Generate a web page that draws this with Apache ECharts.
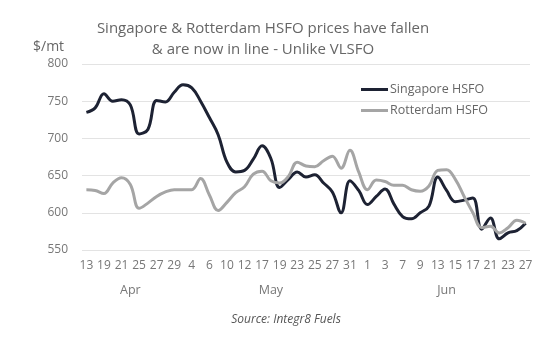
<!DOCTYPE html>
<html>
<head>
<meta charset="utf-8">
<script src="https://cdn.jsdelivr.net/npm/echarts@6/dist/echarts.min.js"></script>
<style>
  html, body { margin: 0; padding: 0; background: #fff; }
  #chart { width: 554px; height: 348px; }
</style>
</head>
<body>
<div id="chart"></div>
<script>
// Day labels shown under every second observation, with their month
const tickLabels = ['13','19','21','25','27','29','4','6','10','12','17','19','23','25','27','31','1','3','7','9','13','15','17','21','23','27'];
const tickMonths = ['Apr','Apr','Apr','Apr','Apr','Apr','May','May','May','May','May','May','May','May','May','May','Jun','Jun','Jun','Jun','Jun','Jun','Jun','Jun','Jun','Jun'];

// HSFO prices, $/mt
const singaporeHSFO = [735, 741, 760, 750, 752, 745, 706, 712, 751, 749,
  762, 772, 768, 750, 728, 705, 668, 655, 657, 672,
  690, 673, 634, 645, 655, 648, 651, 640, 628, 600,
  643, 630, 611, 622, 632, 612, 595, 592, 600, 609,
  648, 630, 615, 617, 620, 578, 593, 565, 573, 576, 586];
const rotterdamHSFO = [631, 630, 626, 640, 647, 638, 606, 613, 622, 628,
  631, 631, 631, 646, 624, 603, 614, 627, 635, 652,
  656, 643, 640, 649, 668, 663, 662, 670, 676, 660,
  684, 655, 631, 644, 642, 637, 637, 631, 629, 636,
  657, 658, 645, 622, 600, 580, 582, 573, 580, 590, 586];

// One category per observation; every even one carries a day label
const categories = singaporeHSFO.map((_, i) => 'obs' + i);
const labelFor = i => (i % 2 === 0 ? tickLabels[i / 2] : '');

// Month captions sit at the centre of the observations they cover
const monthNames = [...new Set(tickMonths)];
const monthCentres = monthNames.map(m => {
  const idx = [];
  tickMonths.forEach((tm, k) => { if (tm === m) idx.push(k * 2); });
  return (idx[0] + idx[idx.length - 1]) / 2;
});

const FONT = '"Open Sans", sans-serif';
const chart = echarts.init(document.getElementById('chart'));
chart.setOption({
  animation: false,
  backgroundColor: '#ffffff',
  textStyle: { fontFamily: FONT },
  title: [
    {
      text: 'Singapore & Rotterdam HSFO prices have fallen\n& are now in line - Unlike VLSFO',
      left: 258, top: 13, textAlign: 'center',
      textStyle: { fontFamily: FONT, fontSize: 15, fontWeight: 'normal', color: '#666666', lineHeight: 21 }
    },
    {
      text: '$/mt', left: 28, top: 35,
      textStyle: { fontFamily: FONT, fontSize: 14, fontWeight: 'normal', color: '#666666' }
    },
    {
      text: 'Source: Integr8 Fuels', left: 281, top: 309, textAlign: 'center',
      textStyle: { fontFamily: FONT, fontSize: 12, fontWeight: 'normal', fontStyle: 'italic', color: '#555555' }
    }
  ],
  legend: {
    orient: 'vertical', left: 356, top: 78, itemGap: 8,
    icon: 'rect', itemWidth: 27, itemHeight: 3,
    textStyle: { fontFamily: FONT, fontSize: 12.5, color: '#666666', padding: [0, 0, 0, -3] },
    data: ['Singapore HSFO', 'Rotterdam HSFO']
  },
  grid: { left: 82, right: 24, top: 64, bottom: 98, containLabel: false },
  xAxis: [
    {
      type: 'category', data: categories, boundaryGap: true,
      axisLine: { show: false }, axisTick: { show: false },
      axisLabel: {
        interval: 1, margin: 10, color: '#777777', fontSize: 12, fontFamily: FONT,
        formatter: (v, i) => labelFor(i)
      }
    },
    {
      type: 'value', position: 'bottom', min: -0.5, max: categories.length - 0.5,
      axisLine: { show: false }, axisTick: { show: false }, splitLine: { show: false },
      axisLabel: {
        customValues: monthCentres, margin: 34, color: '#777777', fontSize: 12.5, fontFamily: FONT,
        formatter: v => monthNames[monthCentres.indexOf(v)]
      }
    }
  ],
  yAxis: {
    type: 'value', min: 550, max: 800, interval: 50,
    axisLine: { show: false }, axisTick: { show: false },
    axisLabel: { color: '#777777', fontSize: 12, fontFamily: FONT, margin: 14 },
    splitLine: { lineStyle: { color: '#e3e3e3', width: 1 } }
  },
  series: [
    {
      name: 'Singapore HSFO', type: 'line', data: singaporeHSFO, xAxisIndex: 0,
      smooth: 0.4, symbol: 'none',
      lineStyle: { color: '#1d2233', width: 3 }, itemStyle: { color: '#1d2233' }
    },
    {
      name: 'Rotterdam HSFO', type: 'line', data: rotterdamHSFO, xAxisIndex: 0,
      smooth: 0.4, symbol: 'none',
      lineStyle: { color: '#a5a5a5', width: 3 }, itemStyle: { color: '#a5a5a5' }
    }
  ]
});
</script>
</body>
</html>
